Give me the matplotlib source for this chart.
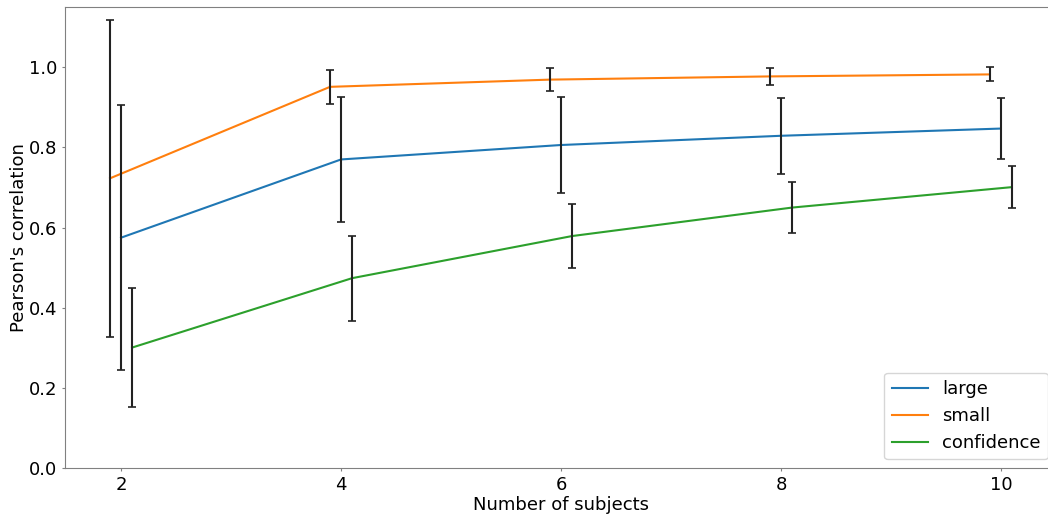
import numpy as np
import matplotlib
matplotlib.use("Agg")
import matplotlib.pyplot as plt

# Mean correlation and error per group size
subjects = np.array([2, 4, 6, 8, 10])

large_mean = [0.575, 0.770, 0.806, 0.829, 0.847]
large_err = [0.331, 0.155, 0.120, 0.095, 0.075]

small_mean = [0.723, 0.951, 0.969, 0.977, 0.982]
small_err = [0.395, 0.042, 0.028, 0.021, 0.0175]

conf_mean = [0.301, 0.474, 0.579, 0.650, 0.701]
conf_err = [0.148, 0.106, 0.080, 0.063, 0.0515]

series = [
    ("large", large_mean, large_err, 0.0, "#1f77b4"),
    ("small", small_mean, small_err, -0.1, "#ff7f0e"),
    ("confidence", conf_mean, conf_err, 0.1, "#2ca02c"),
]

plt.rcParams["font.family"] = "DejaVu Sans"
fig = plt.figure(figsize=(10.48, 5.16), dpi=100)
ax = fig.add_axes([0.062, 0.0924, 0.9466, 0.894])

for name, mean, err, shift, color in series:
    x = subjects + shift
    ax.plot(x, mean, color=color, lw=1.5, label=name, zorder=2)
    ax.errorbar(x, mean, yerr=err, fmt="none", ecolor="#222222",
                elinewidth=1.5, capsize=3, capthick=1.2, zorder=3)

ax.set_xlim(1.49, 10.51)
ax.set_ylim(0, 1.15)
ax.set_xticks(subjects)
ax.set_yticks(np.arange(0, 1.01, 0.2))
ax.tick_params(labelsize=13, color="#808080", length=2.5, pad=2.8)
for sp in ax.spines.values():
    sp.set_color("#808080")

ax.set_xlabel("Number of subjects", fontsize=13, labelpad=2)
ax.set_ylabel("Pearson's correlation", fontsize=13, labelpad=0.5)
ax.legend(loc="lower right", fontsize=13)

fig.savefig("out.png", dpi=100)
